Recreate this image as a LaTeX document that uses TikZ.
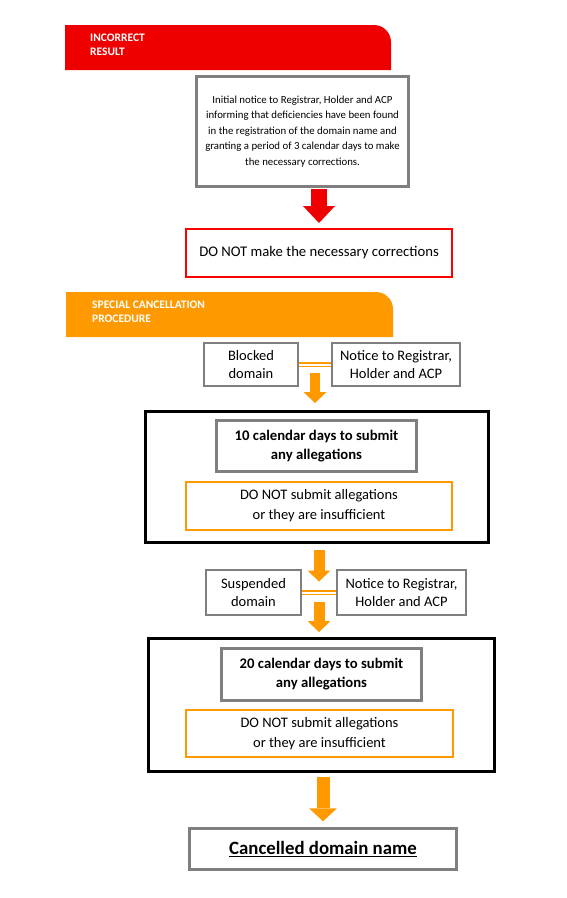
\documentclass[tikz,border=0pt]{standalone}
\usepackage{fontspec}
\setmainfont{Carlito}
\usetikzlibrary{arrows.meta}
\definecolor{redbar}{HTML}{EE0000}
\definecolor{orangebar}{HTML}{FF9900}
\definecolor{boxgray}{HTML}{7F7F7F}

\begin{document}
\begin{tikzpicture}
		[x=1pt,y=-1pt,every node/.style={inner sep=0pt,align=center},
		box/.style={draw=boxgray,line width=2pt,fill=white,font=\fontsize{14.5}{18}\selectfont},
		bigbox/.style={draw=boxgray,line width=2.5pt,fill=white},
		redbox/.style={draw=red,line width=2pt,fill=white,font=\fontsize{14.7}{16}\selectfont},
		orangebox/.style={draw=orangebar,line width=2.5pt,fill=white,font=\fontsize{14.5}{20}\selectfont},
		frame/.style={draw=black,line width=3pt},
		hdr/.style={anchor=west,align=left,text=white,font=\fontsize{11.5}{14}\selectfont\bfseries},
		link/.style={draw=orangebar,line width=1.3pt,double=white,double distance=2pt},
		redarrow/.style={draw=redbar,line width=16pt,-{Triangle[width=32pt,length=17pt,line width=0pt]}},
		orangearrow/.style={draw=orangebar,line width=11pt,-{Triangle[width=23pt,length=11pt,line width=0pt]}}]
		\useasboundingbox (0,0) rectangle (567,898);
		% headers
		\fill[redbar] (65,70) -- (65,25) -- (374,25) arc[start angle=-90,end angle=0,radius=17] -- (391,70) -- cycle;
		\node[hdr] (incorrect) at (90,45) {INCORRECT\\RESULT};
		\fill[orangebar] (66,337) -- (66,292) -- (376,292) arc[start angle=-90,end angle=0,radius=17] -- (393,337) -- cycle;
		\node[hdr] (special) at (92,311.5) {SPECIAL CANCELLATION\\PROCEDURE};
		
		\node[bigbox,line width=3pt,minimum width=212,minimum height=110,font=\fontsize{10.8}{15.5}\selectfont] (note) at (302.5,131.5)
			{Initial notice to Registrar, Holder and ACP\\informing that deficiencies have been found\\in the registration of the domain name and\\granting a period of 3 calendar days to make\\the necessary corrections.};
		\node[redbox,minimum width=266,minimum height=48] (donot) at (319,253) {DO NOT make the necessary corrections};
		
		\node[box,minimum width=94,minimum height=43] (blocked) at (251,364.5) {Blocked\\domain};
		\node[box,minimum width=128,minimum height=43] (notice1) at (396,364.5) {Notice to Registrar,\\Holder and ACP};
		
		\node[frame,minimum width=343,minimum height=131] (frame1) at (317,477) {};
		\node[bigbox,minimum width=200,minimum height=51,font=\fontsize{14.7}{19}\selectfont\bfseries] (days1) at (316.5,446) {10 calendar days to submit\\any allegations};
		\node[orangebox,minimum width=266,minimum height=48] (nosub1) at (319,506) {DO NOT submit allegations\\or they are insufficient};
		
		\node[box,minimum width=95,minimum height=45] (suspended) at (253.5,592.5) {Suspended\\domain};
		\node[box,minimum width=129,minimum height=45] (notice2) at (401.5,592.5) {Notice to Registrar,\\Holder and ACP};
		
		\node[frame,minimum width=346,minimum height=133] (frame2) at (321.5,705) {};
		\node[bigbox,minimum width=200,minimum height=52,font=\fontsize{14.7}{19}\selectfont\bfseries] (days2) at (321.5,674.5) {20 calendar days to submit\\any allegations};
		\node[orangebox,minimum width=267,minimum height=47] (nosub2) at (319.5,733.5) {DO NOT submit allegations\\or they are insufficient};
		
		\node[bigbox,minimum width=267,minimum height=41,font=\fontsize{18.8}{20}\selectfont\bfseries] (cancelled) at (323,849) {\underline{Cancelled domain name}};
		
		\draw[link] (blocked) -- (notice1) coordinate[midway] (m1);
		\draw[link] (suspended) -- (notice2) coordinate[midway] (m2);
		
		\draw[redarrow,shorten <=1pt,shorten >=5pt] (donot.north |- note.south) -- (donot.north);
		\draw[orangearrow,line width=10pt,shorten <=8pt,shorten >=7pt] (m1) -- (m1 |- frame1.north);
		\draw[orangearrow,shorten <=6pt,shorten >=11pt] (m2 |- frame1.south) -- (m2);
		\draw[orangearrow,shorten <=9pt,shorten >=5pt] (m2) -- (m2 |- frame2.north);
		\draw[orangearrow,line width=13pt,-{Triangle[width=28pt,length=13pt,line width=0pt]},shorten <=4pt,shorten >=6pt] (cancelled.north |- frame2.south) -- (cancelled.north);
		\end{tikzpicture}
\end{document}
